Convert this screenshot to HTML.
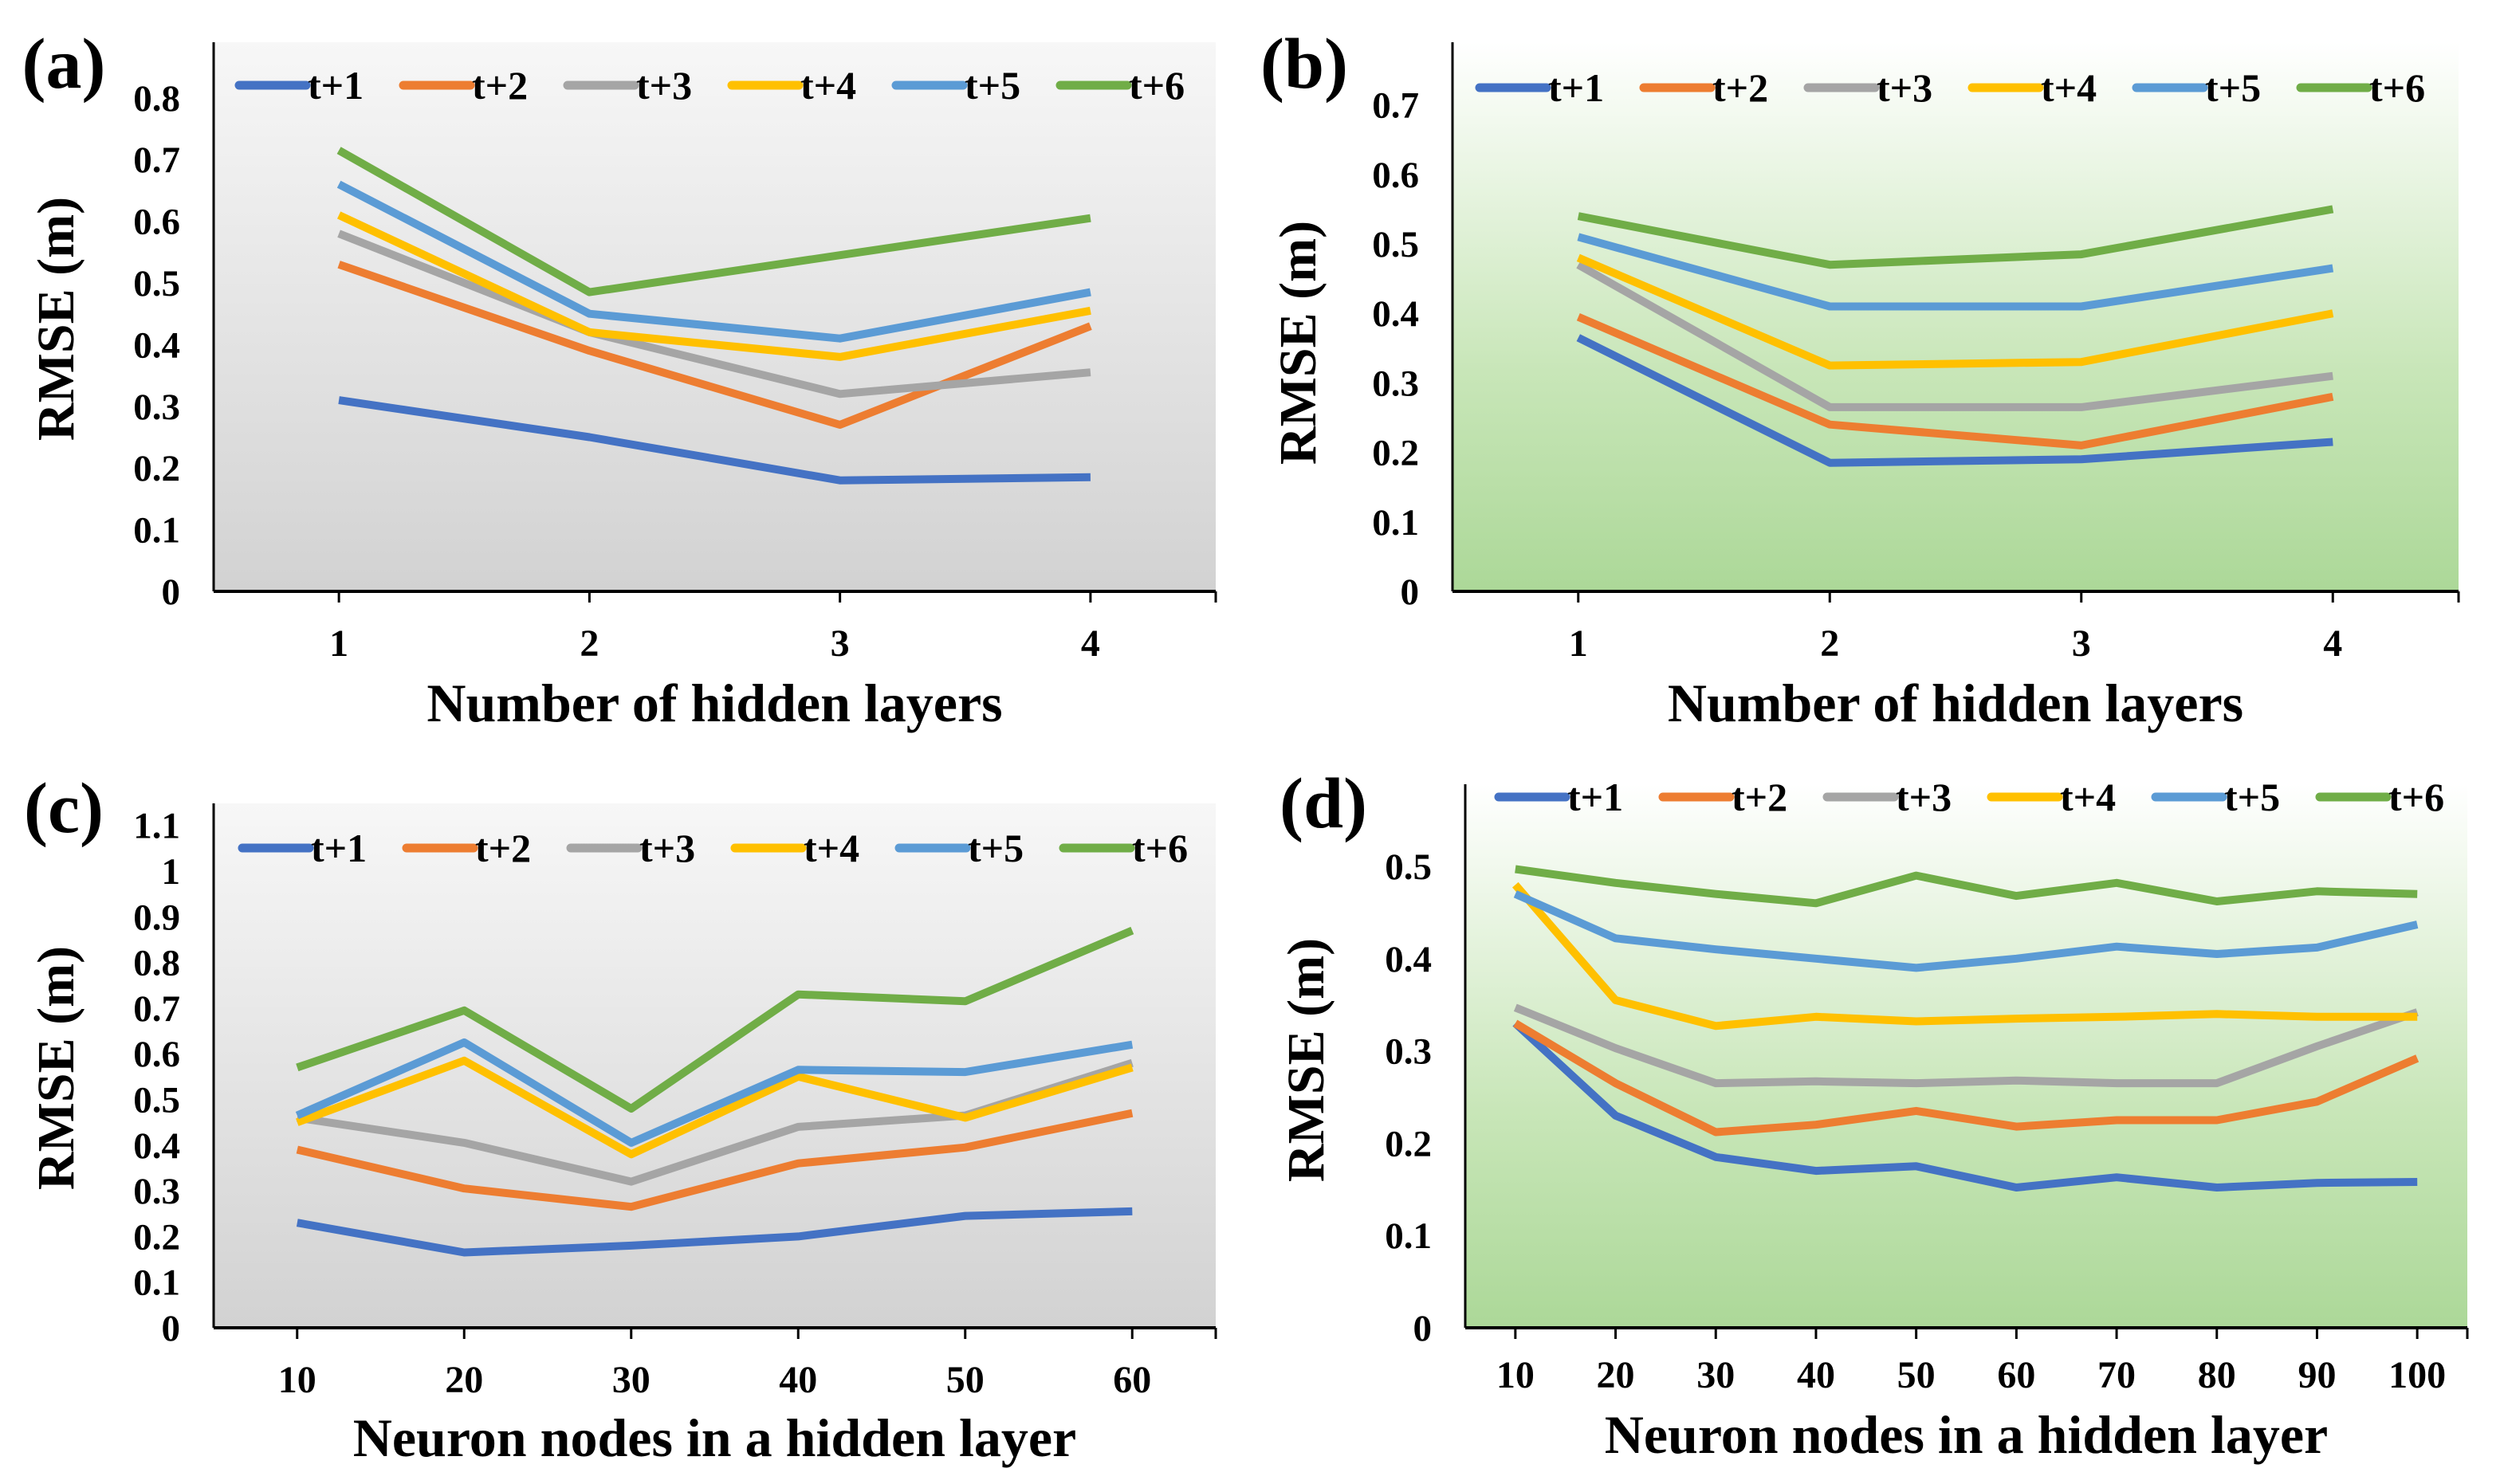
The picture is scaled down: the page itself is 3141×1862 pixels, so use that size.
<!DOCTYPE html>
<html><head><meta charset="utf-8"><style>
html,body{margin:0;padding:0;background:#fff}
svg{display:block}
text{font-family:"Liberation Serif",serif;font-weight:bold;fill:#000}
</style></head><body>
<svg id="fig" width="3141" height="1862" viewBox="0 0 3141 1862" xmlns="http://www.w3.org/2000/svg">
<defs>
<linearGradient id="gGray" x1="0" y1="0" x2="0" y2="1"><stop offset="0" stop-color="#f7f7f7"/><stop offset="1" stop-color="#d2d2d2"/></linearGradient>
<linearGradient id="gGreen" x1="0" y1="0" x2="0" y2="1"><stop offset="0" stop-color="#ffffff"/><stop offset="0.6" stop-color="#c8e6b8"/><stop offset="1" stop-color="#acd898"/></linearGradient>
</defs>
</svg>
<script>
const seriesNames = ["t+1","t+2","t+3","t+4","t+5","t+6"];
const colors = ["#4472c4","#ed7d31","#a5a5a5","#ffc000","#5b9bd5","#70ad47"];

const catsA = ["1","2","3","4"];
const ticksA = ["0","0.1","0.2","0.3","0.4","0.5","0.6","0.7","0.8"];
const a1 = [0.31,0.25,0.18,0.185];
const a2 = [0.53,0.39,0.27,0.43];
const a3 = [0.58,0.42,0.32,0.355];
const a4 = [0.61,0.42,0.38,0.455];
const a5 = [0.66,0.45,0.41,0.485];
const a6 = [0.715,0.485,0.545,0.605];

const catsB = ["1","2","3","4"];
const ticksB = ["0","0.1","0.2","0.3","0.4","0.5","0.6","0.7"];
const b1 = [0.365,0.185,0.19,0.215];
const b2 = [0.395,0.24,0.21,0.28];
const b3 = [0.47,0.265,0.265,0.31];
const b4 = [0.48,0.325,0.33,0.40];
const b5 = [0.51,0.41,0.41,0.465];
const b6 = [0.54,0.47,0.485,0.55];

const catsC = ["10","20","30","40","50","60"];
const ticksC = ["0","0.1","0.2","0.3","0.4","0.5","0.6","0.7","0.8","0.9","1","1.1"];
const c1 = [0.23,0.165,0.18,0.20,0.245,0.255];
const c2 = [0.39,0.305,0.265,0.36,0.395,0.47];
const c3 = [0.46,0.405,0.32,0.44,0.465,0.58];
const c4 = [0.45,0.585,0.38,0.55,0.46,0.57];
const c5 = [0.465,0.625,0.405,0.565,0.56,0.62];
const c6 = [0.57,0.695,0.48,0.73,0.715,0.87];

const catsD = ["10","20","30","40","50","60","70","80","90","100"];
const ticksD = ["0","0.1","0.2","0.3","0.4","0.5"];
const d1 = [0.33,0.23,0.185,0.17,0.175,0.152,0.163,0.152,0.157,0.158];
const d2 = [0.33,0.265,0.212,0.22,0.235,0.218,0.225,0.225,0.245,0.292];
const d3 = [0.347,0.303,0.265,0.267,0.265,0.268,0.265,0.265,0.305,0.342];
const d4 = [0.48,0.355,0.327,0.337,0.332,0.335,0.337,0.34,0.337,0.337];
const d5 = [0.47,0.422,0.41,0.40,0.39,0.40,0.413,0.405,0.412,0.437];
const d6 = [0.497,0.482,0.47,0.46,0.49,0.468,0.482,0.462,0.473,0.47];

const NS="http://www.w3.org/2000/svg";
const svg=document.getElementById('fig');
function mk(tag,attrs,parent){const e=document.createElementNS(NS,tag);for(const k in attrs)e.setAttribute(k,attrs[k]);(parent||svg).appendChild(e);return e;}

function panel(p){
  const g=mk('g',{});
  
  
  const bg=mk('rect',{x:p.left,y:p.top,width:p.right-p.left,height:p.bottom-p.top,fill:p.fill},g);
  
  
  const step=(p.right-p.left)/p.cats.length;
  const xs=i=>p.left+(i+0.5)*step;
  const ys=v=>p.bottom-v/p.unit*p.px;
  p.ticks.forEach(t=>{
    const tx=mk('text',{x:p.left-42,y:ys(parseFloat(t))+16,'font-size':47,'text-anchor':'end'},g);
    tx.textContent=t;
    
    
  });
  const ax=mk('line',{x1:p.left,y1:p.top,x2:p.left,y2:p.bottom,stroke:'#000','stroke-width':3},g);
  
  
  const bx=mk('line',{x1:p.left,y1:p.bottom,x2:p.right,y2:p.bottom,stroke:'#000','stroke-width':4},g);
  
  
  mk('line',{x1:p.right,y1:p.bottom,x2:p.right,y2:p.bottom+14,stroke:'#000','stroke-width':3},g);
  p.cats.forEach((c,i)=>{
    mk('line',{x1:xs(i),y1:p.bottom,x2:xs(i),y2:p.bottom+14,stroke:'#000','stroke-width':3},g);
    const tx=mk('text',{x:xs(i),y:p.xtickY+17,'font-size':48,'text-anchor':'middle'},g);
    tx.textContent=c;
    
    
  });
  p.series.forEach((s,k)=>{
    const pts=s.map((v,i)=>xs(i).toFixed(1)+','+ys(v).toFixed(1)).join(' ');
    const pl=mk('polyline',{points:pts,fill:'none',stroke:colors[k],'stroke-width':10,'stroke-linejoin':'round'},g);
    
    
  });
  seriesNames.forEach((n,k)=>{
    const lx=p.legX+k*206;
    const li=mk('line',{x1:lx,y1:p.legY,x2:lx+84,y2:p.legY,stroke:colors[k],'stroke-width':11,'stroke-linecap':'round'},g);
    
    
    const tx=mk('text',{x:lx+86,y:p.legY+17,'font-size':50},g);
    tx.textContent=n;
    
    
  });
  const yt=mk('text',{x:0,y:0,'font-size':66,'text-anchor':'middle',transform:'translate('+(p.ytX+6)+','+p.ytY+') rotate(-90)'},g);
  yt.textContent='RMSE (m)';
  
  
  const xt=mk('text',{x:(p.left+p.right)/2,y:p.xtY+23,'font-size':68,'text-anchor':'middle'},g);
  xt.textContent=p.xtitle;
  
  
  const lb=mk('text',{x:p.labX,y:p.labY+30,'font-size':90,'text-anchor':'middle'},g);
  lb.textContent='('+p.id+')';
  
  
}

panel({id:'a',left:268,right:1525,top:53,bottom:742,unit:0.1,px:77.4,fill:'url(#gGray)',cats:catsA,ticks:ticksA,
  series:[a1,a2,a3,a4,a5,a6],xtickY:806,legX:300,legY:107,ytX:86,ytY:400,xtY:882,xtitle:'Number of hidden layers',labX:80,labY:80});
panel({id:'b',left:1822,right:3084,top:53,bottom:742,unit:0.1,px:87.2,fill:'url(#gGreen)',cats:catsB,ticks:ticksB,
  series:[b1,b2,b3,b4,b5,b6],xtickY:806,legX:1856,legY:110,ytX:1644,ytY:430,xtY:882,xtitle:'Number of hidden layers',labX:1636,labY:80});
panel({id:'c',left:268,right:1525,top:1008,bottom:1666,unit:0.1,px:57.3,fill:'url(#gGray)',cats:catsC,ticks:ticksC,
  series:[c1,c2,c3,c4,c5,c6],xtickY:1730,legX:304,legY:1064,ytX:86,ytY:1340,xtY:1804,xtitle:'Neuron nodes in a hidden layer',labX:80,labY:1014});
panel({id:'d',left:1838,right:3095,top:984,bottom:1666,unit:0.1,px:115.8,fill:'url(#gGreen)',cats:catsD,ticks:ticksD,
  series:[d1,d2,d3,d4,d5,d6],xtickY:1724,legX:1880,legY:1000,ytX:1654,ytY:1330,xtY:1800,xtitle:'Neuron nodes in a hidden layer',labX:1660,labY:1008});
</script>
</body></html>
